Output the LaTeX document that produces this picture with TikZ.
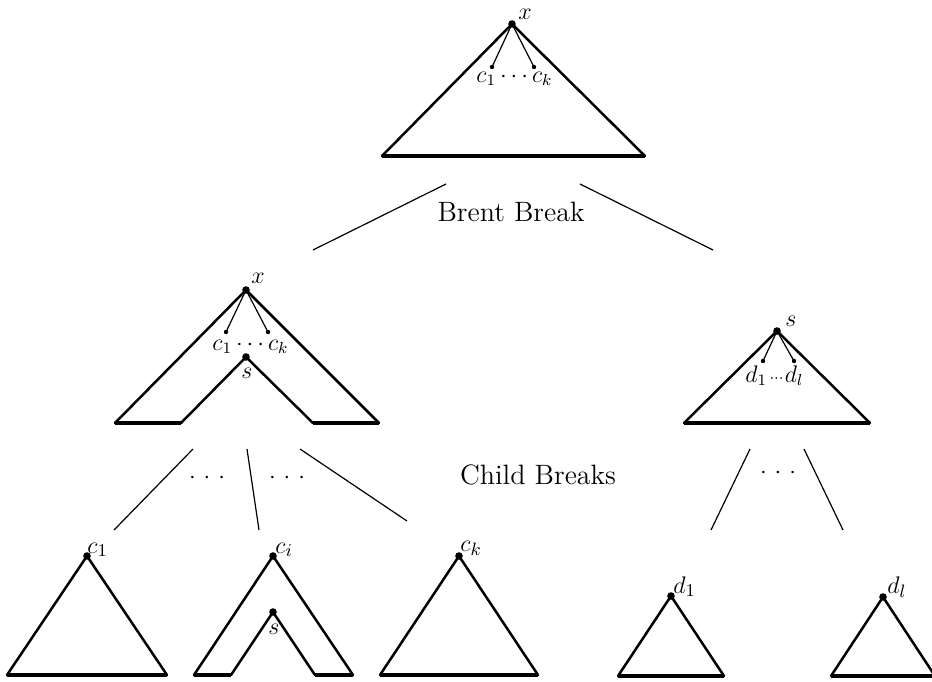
\documentclass[tikz,border=0pt]{standalone}
\begin{document}
\begin{tikzpicture}[x=0.5pt,y=-0.5pt,
  side/.style={line width=1.25pt, line join=miter, line cap=round},
  basel/.style={line width=1.75pt},
  thinl/.style={line width=0.6pt},
  bigdot/.style={circle, fill, inner sep=0pt, minimum size=3.8pt},
  smalldot/.style={circle, fill, inner sep=0pt, minimum size=2.2pt},
  lab/.style={inner sep=0pt, anchor=base west, font=\fontsize{11.5}{14}\selectfont},
  blab/.style={inner sep=0pt, anchor=base west, font=\fontsize{12.5}{15}\selectfont},
  dotsl/.style={inner sep=0pt, anchor=base, font=\fontsize{11.5}{14}\selectfont},
  title/.style={inner sep=0pt, font=\fontsize{14}{17}\selectfont}]
\clip (0,0) rectangle (932,681);

% ---------- top tree ----------
\node[bigdot] (tx) at (512,24) {};
\coordinate (tl) at (382,156);
\coordinate (tr) at (645,156);
\node[smalldot] (tc1) at (492,67) {};
\node[smalldot] (tck) at (534,67) {};
\draw[side] (tl) -- (tx.center) -- (tr);
\draw[basel] (tl) -- (tr);
\draw[thinl] (tx.center) -- (tc1.center);
\draw[thinl] (tx.center) -- (tck.center);
\node[lab] (txl) at (518,19) {$x$};
\node[lab] (trow) at (476,82) {$c_1\cdots c_k$};

% ---------- Brent break ----------
\node[title] (brent) at (511,212) {Brent Break};
\coordinate (b1s) at (446,184); \coordinate (b1e) at (313,250);
\coordinate (b2s) at (580,184); \coordinate (b2e) at (713,250);
\draw[thinl] (b1s) -- (b1e);
\draw[thinl] (b2s) -- (b2e);

% ---------- middle left tree ----------
\node[bigdot] (mx) at (246,290) {};
\node[bigdot] (ms) at (246,357) {};
\coordinate (mol) at (115,423);
\coordinate (mil) at (181,423);
\coordinate (mir) at (313,423);
\coordinate (mor) at (379,423);
\node[smalldot] (mc1) at (226,332) {};
\node[smalldot] (mck) at (268,332) {};
\draw[side] (mol) -- (mx.center) -- (mor);
\draw[side] (mil) -- (ms.center) -- (mir);
\draw[basel] (mol) -- (mil);
\draw[basel] (mir) -- (mor);
\draw[thinl] (mx.center) -- (mc1.center);
\draw[thinl] (mx.center) -- (mck.center);
\node[lab] (mxl) at (251,283) {$x$};
\node[lab] (mrow) at (212,350) {$c_1\cdots c_k$};
\node[lab] (msl) at (241,378) {$s$};

% ---------- middle right tree ----------
\node[bigdot] (rs) at (777,331) {};
\coordinate (rl) at (684,423);
\coordinate (rr) at (870,423);
\node[smalldot] (rd1) at (763,361) {};
\node[smalldot] (rdl) at (794,361) {};
\draw[side] (rl) -- (rs.center) -- (rr);
\draw[basel] (rl) -- (rr);
\draw[thinl] (rs.center) -- (rd1.center);
\draw[thinl] (rs.center) -- (rdl.center);
\node[lab] (rsl) at (785,326) {$s$};
\node[lab] (rrow) at (745,382) {$d_1\kern1.2pt{\scriptstyle\cdots}\kern0.6pt d_l$};

% ---------- child breaks ----------
\node[title] (child) at (538,475) {Child Breaks};
\coordinate (k1s) at (193,449); \coordinate (k1e) at (114,530);
\coordinate (k2s) at (247,449); \coordinate (k2e) at (259,530);
\coordinate (k3s) at (300,449); \coordinate (k3e) at (407,521);
\coordinate (k4s) at (750,449); \coordinate (k4e) at (711,530);
\coordinate (k5s) at (804,449); \coordinate (k5e) at (843,530);
\draw[thinl] (k1s) -- (k1e);
\draw[thinl] (k2s) -- (k2e);
\draw[thinl] (k3s) -- (k3e);
\draw[thinl] (k4s) -- (k4e);
\draw[thinl] (k5s) -- (k5e);
\node[dotsl] (dots1) at (207,483) {$\cdotp\,\cdotp\,\cdotp$};
\node[dotsl] (dots2) at (287,483) {$\cdotp\,\cdotp\,\cdotp$};
\node[dotsl] (dots3) at (778,478) {$\cdotp\,\cdotp\,\cdotp$};

% ---------- bottom trees ----------
% c1
\node[bigdot] (bc1) at (87,556) {};
\coordinate (bc1l) at (7,675); \coordinate (bc1r) at (167,675);
\draw[side] (bc1l) -- (bc1.center) -- (bc1r);
\draw[basel] (bc1l) -- (bc1r);
\node[blab] (bc1lab) at (87,553) {$c_1$};
% ci
\node[bigdot] (bci) at (273,556) {};
\node[bigdot] (bcs) at (273,612) {};
\coordinate (bciol) at (194,675); \coordinate (bciil) at (231,675);
\coordinate (bciir) at (315,675); \coordinate (bcior) at (353,675);
\draw[side] (bciol) -- (bci.center) -- (bcior);
\draw[side] (bciil) -- (bcs.center) -- (bciir);
\draw[basel] (bciol) -- (bciil);
\draw[basel] (bciir) -- (bcior);
\node[blab] (bcilab) at (275,553) {$c_i$};
\node[lab] (bcslab) at (268,634) {$s$};
% ck
\node[bigdot] (bck) at (459,556) {};
\coordinate (bckl) at (380,675); \coordinate (bckr) at (538,675);
\draw[side] (bckl) -- (bck.center) -- (bckr);
\draw[basel] (bckl) -- (bckr);
\node[blab] (bcklab) at (460,551) {$c_k$};
% d1
\node[bigdot] (bd1) at (671,596) {};
\coordinate (bd1l) at (618,676); \coordinate (bd1r) at (724,676);
\draw[side] (bd1l) -- (bd1.center) -- (bd1r);
\draw[basel] (bd1l) -- (bd1r);
\node[blab] (bd1lab) at (673,593) {$d_1$};
% dl
\node[bigdot] (bdl) at (883,597) {};
\coordinate (bdll) at (831,676); \coordinate (bdlr) at (935,676);
\draw[side] (bdll) -- (bdl.center) -- (bdlr);
\draw[basel] (bdll) -- (bdlr);
\node[blab] (bdllab) at (887,593) {$d_l$};
\end{tikzpicture}
\end{document}
